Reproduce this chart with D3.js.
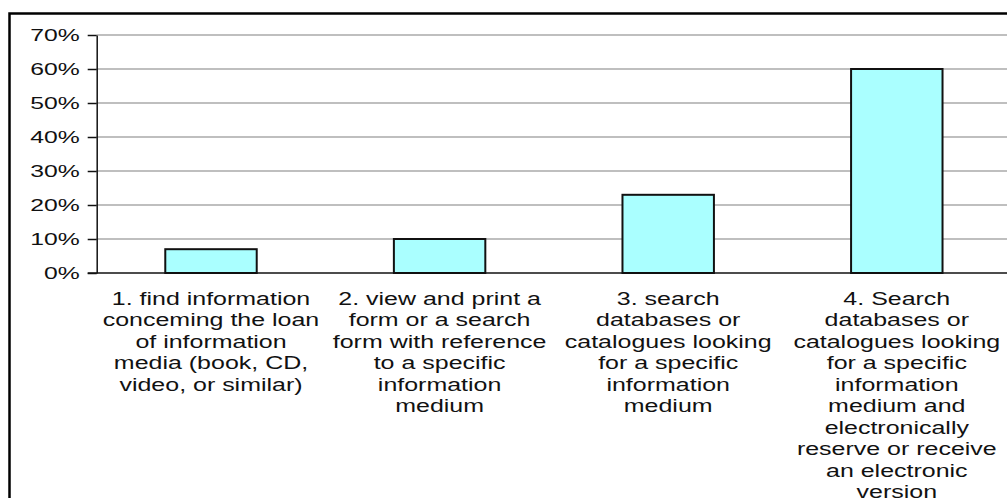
<!DOCTYPE html>
<html>
<head>
<meta charset="utf-8">
<script src="https://cdn.jsdelivr.net/npm/d3@7"></script>
<style>
  html, body { margin: 0; padding: 0; background: #fff; }
  svg { display: block; }
  text { font-family: "Liberation Sans", Arial, sans-serif; fill: #111; }
</style>
</head>
<body>
<svg id="chart" width="1007" height="498"></svg>
<script>
const categories = [
  ["1. find information", "conceming the loan", "of information", "media (book, CD,", "video, or similar)"],
  ["2. view and print a", "form or a search", "form with reference", "to a specific", "information", "medium"],
  ["3. search", "databases or", "catalogues looking", "for a specific", "information", "medium"],
  ["4. Search", "databases or", "catalogues looking", "for a specific", "information", "medium and", "electronically", "reserve or receive", "an electronic", "version"]
];
const values = [0.07, 0.10, 0.23, 0.60];
const yTicks = [0, 0.1, 0.2, 0.3, 0.4, 0.5, 0.6, 0.7];

const svg = d3.select("#chart");
const W = 1007, H = 498;

// outer frame
svg.append("rect")
  .attr("x", 9.5).attr("y", 13.5)
  .attr("width", 1010).attr("height", 500)
  .attr("fill", "none").attr("stroke", "#000").attr("stroke-width", 2.5);

const x0 = 96.7, plotW = 914.4;
const y = d3.scaleLinear().domain([0, 0.7]).range([273, 35]);
const x = d3.scaleBand().domain(d3.range(categories.length))
  .range([x0, x0 + plotW]).paddingInner(0.6).paddingOuter(0.3);

// gridlines
svg.append("g").selectAll("line").data(yTicks.filter(d => d > 0)).join("line")
  .attr("x1", x0).attr("x2", W)
  .attr("y1", d => y(d)).attr("y2", d => y(d))
  .attr("stroke", "#aaaaaa").attr("stroke-width", 1.5);

// bars
svg.append("g").selectAll("rect").data(values).join("rect")
  .attr("x", (d, i) => x(i)).attr("width", x.bandwidth())
  .attr("y", d => y(d)).attr("height", d => y(0) - y(d))
  .attr("fill", "#aaffff").attr("stroke", "#111").attr("stroke-width", 2);

// y axis
const yAxis = d3.axisLeft(y).tickValues(yTicks).tickSize(9).tickSizeOuter(0)
  .tickFormat(d3.format(".0%"));
const ga = svg.append("g").attr("transform", `translate(${x0},0)`).call(yAxis);
ga.select(".domain").attr("stroke", "#111").attr("stroke-width", 1.5);
ga.selectAll(".tick line").attr("stroke", "#111").attr("stroke-width", 1.5);
const sx = 1.5;
ga.selectAll(".tick text")
  .attr("x", -17 / sx)
  .attr("dy", "0.36em")
  .attr("transform", `scale(${sx},1)`)
  .style("font-size", "16.5px")
  .style("font-family", "'Liberation Sans', Arial, sans-serif")
  .attr("fill", "#111");

// zero baseline
svg.append("line")
  .attr("x1", x0 - 9).attr("x2", W)
  .attr("y1", y(0)).attr("y2", y(0))
  .attr("stroke", "#111").attr("stroke-width", 1.5);

// category labels
const lab = svg.append("g").selectAll("g").data(categories).join("g")
  .attr("transform", (d, i) => `translate(${x(i) + x.bandwidth() / 2},305) scale(1.35,1)`);
lab.selectAll("text").data(d => d).join("text")
  .attr("x", 0).attr("y", (d, j) => j * 21.5)
  .attr("text-anchor", "middle")
  .style("font-size", "18.5px")
  .text(d => d);
</script>
</body>
</html>
